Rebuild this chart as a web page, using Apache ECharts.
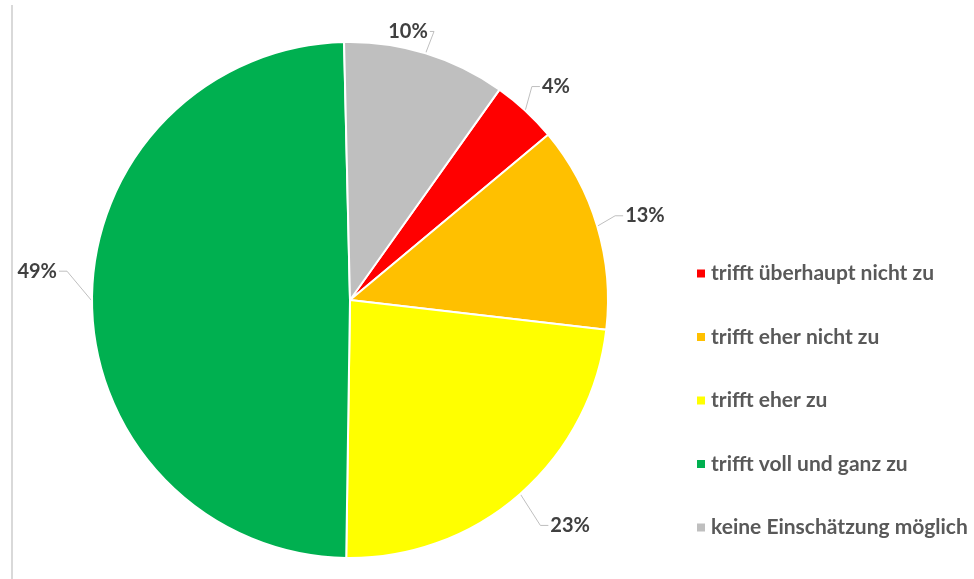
<!DOCTYPE html>
<html><head><meta charset="utf-8">
<script src="https://cdn.jsdelivr.net/npm/echarts@6/dist/echarts.min.js"></script>
<style>html,body{margin:0;padding:0;background:#fff}#c{width:974px;height:579px}</style>
</head><body><div id="c"></div>
<script>
const categories = ["trifft überhaupt nicht zu","trifft eher nicht zu","trifft eher zu","trifft voll und ganz zu","keine Einschätzung möglich"];
const values = [4.1, 12.9, 23.4, 49.4, 10.2];
const labels = ["4%","13%","23%","49%","10%"];
const colors = ["#FF0000","#FFC000","#FFFF00","#00B050","#BFBFBF"];
// label nudges (style only)
const labelShift = [[-14,-5],[-10,-3],[0,12],[4,-30],[-58,3]];

const chart = echarts.init(document.getElementById('c'));
chart.setOption({
  animation: false,
  color: colors,
  graphic: [{type:'line', shape:{x1:12,y1:5,x2:12,y2:579}, style:{stroke:'#d9d9d9', lineWidth:2}}],
  legend: {
    orient: 'vertical', left: 690, top: 258,
    itemWidth: 10, itemHeight: 10, itemGap: 42.5, icon: 'rect',
    textStyle: {fontFamily: 'Lato', fontWeight: 'bold', fontSize: 21, color: '#595959'},
    data: categories
  },
  series: [{
    type: 'pie', center: [350, 300], radius: 258, startAngle: 54.6, clockwise: true,
    itemStyle: {borderColor: '#fff', borderWidth: 2},
    label: {
      formatter: p => labels[p.dataIndex],
      fontFamily: 'Lato', fontWeight: 'bold', fontSize: 20, color: '#404040'
    },
    labelLine: {length: 26, length2: 8, lineStyle: {color: '#bfbfbf', width: 1}},
    labelLayout: p => {
      const [dx, dy] = labelShift[p.dataIndex];
      const r = p.labelRect, pts = p.labelLinePoints;
      if (!pts) return {dx, dy};
      const a = pts[0];
      const nx = r.x + dx, ny = r.y + dy;
      const cy = ny + r.height / 2;
      const labelLeft = (nx + r.width / 2) < a[0];
      const ex = labelLeft ? nx + r.width + 2 : nx - 2;
      const sign = labelLeft ? 1 : -1;
      const mx = ex + sign * Math.min(8, Math.abs(a[0] - ex));
      return {dx, dy, labelLinePoints: [a, [mx, cy], [ex, cy]]};
    },
    data: categories.map((n, i) => ({name: n, value: values[i]}))
  }]
});
</script></body></html>
